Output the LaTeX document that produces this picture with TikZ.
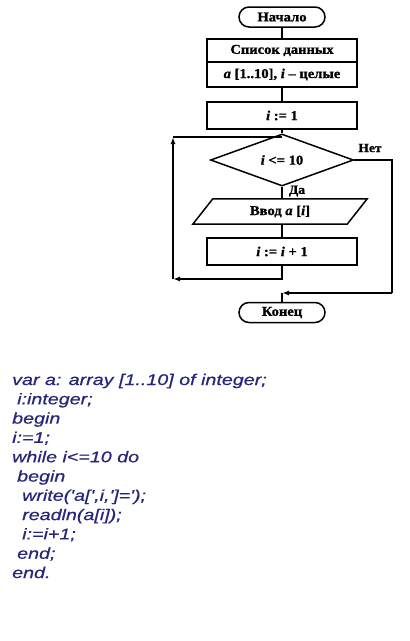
\documentclass[tikz,border=0pt]{standalone}
\usepackage{fontspec}
\setmainfont[FakeStretch=1.08, BoldFeatures={FakeBold=1.2}, BoldItalicFeatures={FakeBold=1.2}]{Liberation Serif}
\newfontfamily\codefont[FakeStretch=1.27, FakeBold=0.6]{Liberation Sans}
\usepackage{tikz}
\usetikzlibrary{positioning}
\usetikzlibrary{shapes.geometric}
\usetikzlibrary{arrows.meta}
\definecolor{codeblue}{RGB}{38,38,122}

\tikzset{
  flow/.style={line width=1.5pt},
  arr/.style={flow, -{Latex[length=7pt,width=5pt]}},
  term/.style={draw, flow, rounded corners=10pt, minimum width=86pt, minimum height=20pt,
               inner sep=0pt, font=\bfseries\fontsize{13.5}{15}\selectfont},
  blk/.style={draw, flow, minimum width=150pt, inner sep=0pt, font=\bfseries\fontsize{13.5}{15}\selectfont},
  lbl/.style={inner sep=0pt, font=\bfseries\fontsize{12.5}{14}\selectfont},
  code/.style={anchor=base west, inner sep=0pt, text=codeblue,
               font=\codefont\itshape\fontsize{15.5}{18}\selectfont}
}

\begin{document}
\begin{tikzpicture}[x=1pt, y=-1pt]
  \useasboundingbox (0,0) rectangle (410,641);

  % Flowchart
  \node[term] (start) at (282,17) {Начало};
  \node[blk, minimum height=23pt] (data1) at (282,50.5) {Список данных};
  \node[blk, minimum height=25pt] (data2) at (282,74.5) {\textit{a} [1..10], \textit{i} – целые};
  \node[blk, minimum height=27pt] (init) at (282,115.5) {\textit{i} := 1};
  \node[draw, flow, diamond, minimum width=143pt, minimum height=35pt, inner sep=0pt,
        font=\bfseries\fontsize{13.5}{15}\selectfont] (cond) at (282,160) {\textit{i} <= 10};
  \node[minimum width=154pt, minimum height=25pt, inner sep=0pt,
        font=\bfseries\fontsize{13.5}{15}\selectfont] (inp) at (280,211.5) {Ввод \textit{a} [\textit{i}]};
  \draw[flow] ([xshift=10pt]inp.north west) -- ([xshift=10pt]inp.north east)
    -- ([xshift=-10pt]inp.south east) -- ([xshift=-10pt]inp.south west) -- cycle;
  \node[blk, minimum height=27pt] (inc) at (282,251.5) {\textit{i} := \textit{i} + 1};
  \node[term] (stop) at (282,312.5) {Конец};

  % Labels
  \node[lbl] (no) at (370,148) {Нет};
  \node[lbl] (yes) at (297,191) {Да};

  % Connectors
  \coordinate (lb) at (173,279);
  \coordinate (lt) at (173,137);
  \coordinate (rt) at (392,160);
  \coordinate (rb) at (392,293);
  \coordinate (join) at (stop.north |- rb);

  \draw[flow] (start) -- (data1);
  \draw[flow] (data2) -- (init);
  \draw[flow] (init) -- (cond);
  \draw[flow] (cond.south) -- (cond.south |- inp.north);
  \draw[flow] (inc.north |- inp.south) -- (inc.north);
  \draw[arr] (inc.south) |- (lb);
  \draw[arr] (lb) -- (lt);
  \draw[flow] (lt) -- (init.south |- lt);
  \draw[flow] (cond.east) -- (rt) -- (rb);
  \draw[arr] (rb) -- (join);
  \draw[flow] (join) -- (stop.north);

  % Program text
  \node[code] (l1) at (12,385) {var a: array [1..10] of integer;};
  \node[code] (l2) at (17,404.3) {i:integer;};
  \node[code] (l3) at (12,423.6) {begin};
  \node[code] (l4) at (12,442.9) {i:=1;};
  \node[code] (l5) at (12,462.2) {while i<=10 do};
  \node[code] (l6) at (17,481.5) {begin};
  \node[code] (l7) at (22,500.8) {write('a[',i,']=');};
  \node[code] (l8) at (22,520.1) {readln(a[i]);};
  \node[code] (l9) at (22,539.4) {i:=i+1;};
  \node[code] (l10) at (17,558.7) {end;};
  \node[code] (l11) at (12,578) {end.};
\end{tikzpicture}
\end{document}
